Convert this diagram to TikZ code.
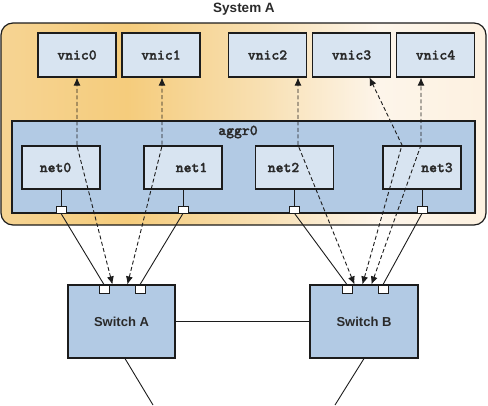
\documentclass[tikz,border=0pt]{standalone}
\usepackage{fontspec}
\setmainfont{Liberation Sans}
\newfontfamily\courbold{lmmonolt10-bold.otf}[FakeBold=1.5]
\usetikzlibrary{arrows.meta,calc}
\definecolor{sysA}{HTML}{F6D493}
\definecolor{sysB}{HTML}{F5CC7C}
\definecolor{sysC}{HTML}{F8E0B3}
\definecolor{sysD}{HTML}{FDF5EA}
\definecolor{sysE}{HTML}{FDF1E0}
\pgfdeclarehorizontalshading{sysshade}{100bp}{color(0bp)=(sysA); color(25bp)=(sysA);
  color(38bp)=(sysB); color(52bp)=(sysC); color(64bp)=(sysD); color(75bp)=(sysE); color(100bp)=(sysE)}
\definecolor{lightbox}{HTML}{D8E4F1}
\definecolor{midbox}{HTML}{B2CAE4}
\definecolor{edge}{HTML}{1C1C1C}
\definecolor{txt}{HTML}{2A2A2A}
\tikzset{
  boxbase/.style={draw=edge, line width=1.1pt, rectangle, inner sep=0pt},
  monolabel/.style={font=\fontsize{15}{17}\selectfont\courbold, text=txt},
  vnicbox/.style={boxbase, fill=lightbox, minimum width=78pt, minimum height=44pt, monolabel},
  netbox/.style={boxbase, fill=lightbox, minimum width=78pt, minimum height=43pt},
  switchbox/.style={boxbase, fill=midbox, minimum width=107pt, minimum height=73pt,
    font=\fontsize{13}{15}\selectfont\bfseries, text=txt},
  portbox/.style={draw=edge, line width=0.8pt, fill=white, rectangle, inner sep=0pt,
    minimum width=10pt, minimum height=7pt},
  wire/.style={draw=edge, line width=0.9pt},
  flow/.style={draw=edge, line width=0.9pt, dash pattern=on 4pt off 2.5pt,
    {Latex[length=8pt,width=7pt]}-{Latex[length=8pt,width=7pt]}},
}
\begin{document}
\begin{tikzpicture}[x=1pt,y=-1pt]
\useasboundingbox (0,0) rectangle (488,405);
% System A container
\node[font=\fontsize{13.5}{15}\selectfont\bfseries, text=txt] (title) at (244,9) {System A};
\shade[shading=sysshade, rounded corners=12pt] (1,23) rectangle (486,225);
\draw[draw=edge, line width=1.2pt, rounded corners=12pt] (1,23) rectangle (486,225);
% vnics
\node[vnicbox] (vnic0) at (77,55) {vnic0};
\node[vnicbox] (vnic1) at (161,55) {vnic1};
\node[vnicbox] (vnic2) at (267.5,55) {vnic2};
\node[vnicbox] (vnic3) at (351.5,55) {vnic3};
\node[vnicbox] (vnic4) at (435.5,55) {vnic4};
% aggr0
\node[boxbase, fill=midbox, minimum width=463pt, minimum height=92pt] (aggr) at (243.5,167) {};
\node[monolabel] (aggrlbl) at (238,132) {aggr0};
% nets
\node[netbox] (net0) at (61,167.5) {};
\node[netbox] (net1) at (183,167.5) {};
\node[netbox] (net2) at (294.5,167.5) {};
\node[netbox] (net3) at (422,167.5) {};
\node[monolabel] (l0) at ($(net0.center)+(-5.5,0)$) {net0};
\node[monolabel] (l1) at ($(net1.center)+(8.5,0)$) {net1};
\node[monolabel] (l2) at ($(net2.center)+(-11,0)$) {net2};
\node[monolabel] (l3) at ($(net3.center)+(15,0)$) {net3};
% aggr ports
\node[portbox] (p0) at (61,209.5) {};
\node[portbox] (p1) at (183,209.5) {};
\node[portbox] (p2) at (294.5,209.5) {};
\node[portbox] (p3) at (422,209.5) {};
\foreach \n/\p in {net0/p0,net1/p1,net2/p2,net3/p3}
  \draw[wire] (\n.south) -- (\p.north);
% switches
\node[switchbox] (swA) at (121.5,321.5) {Switch A};
\node[switchbox, minimum width=108pt] (swB) at (364,321.5) {Switch B};
\node[portbox, minimum height=8pt] (sa1) at (104,289) {};
\node[portbox, minimum height=8pt] (sa2) at (140,289) {};
\node[portbox, minimum height=8pt] (sb1) at (347,289) {};
\node[portbox, minimum height=8pt] (sb2) at (383,289) {};
% physical links
\draw[wire] (p0.south) -- (sa1.north);
\draw[wire] (p1.south) -- (sa2.north);
\draw[wire] (p2.south) -- (sb1.north);
\draw[wire] (p3.south) -- (sb2.north);
\draw[wire] (swA.east) -- (swB.west);
\coordinate (outA) at (153,405);
\coordinate (outB) at (335,405);
\draw[wire] ($(swA.south)+(3.5,0)$) -- (outA);
\draw[wire] (swB.south) -- (outB);
% virtual flows
\coordinate (b0) at (77,146);
\coordinate (b1) at (162,146);
\coordinate (b2) at (298,145);
\coordinate (b3) at (402,145);
\coordinate (b4) at (421,145);
\coordinate (e3) at (369.5,77);
\draw[flow] ($(swA.north west)+(45,0)$) -- (b0) -- (b0 |- vnic0.south);
\draw[flow] ($(swA.north west)+(60,0)$) -- (b1) -- (b1 |- vnic1.south);
\draw[flow] ($(swB.north west)+(45,0)$) -- (b2) -- (b2 |- vnic2.south);
\draw[flow] ($(swB.north west)+(53,0)$) -- (b3) -- (e3 |- vnic3.south);
\draw[flow] ($(swB.north west)+(62,0)$) -- (b4) -- (b4 |- vnic4.south);
\end{tikzpicture}
\end{document}
